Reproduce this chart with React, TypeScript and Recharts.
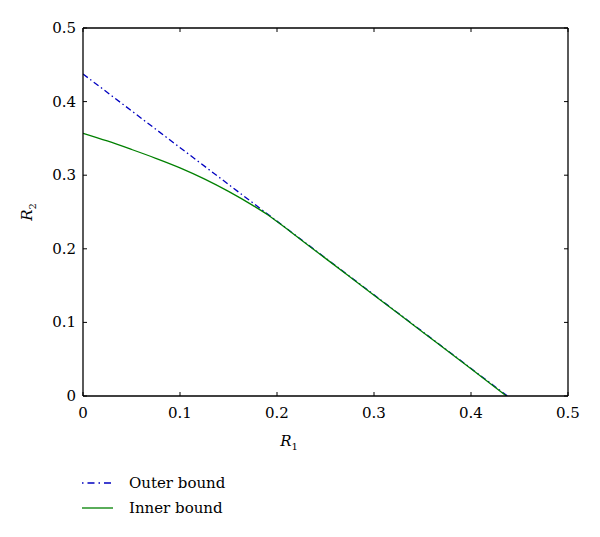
import React from "react";
import { LineChart, Line, XAxis, YAxis, Label } from "recharts";

const xTicks = [0, 0.1, 0.2, 0.3, 0.4, 0.5];
const yTicks = [0, 0.1, 0.2, 0.3, 0.4, 0.5];
const xTickLabels = ["0", "0.1", "0.2", "0.3", "0.4", "0.5"];
const yTickLabels = ["0", "0.1", "0.2", "0.3", "0.4", "0.5"];

const seriesNames = ["Outer bound", "Inner bound"];

const r1Outer = [0, 0.4375];
const r2Outer = [0.4375, 0];

const r1Inner = [0, 0.025, 0.05, 0.075, 0.1, 0.125, 0.15, 0.175, 0.19, 0.2, 0.225, 0.25, 0.3, 0.35, 0.4, 0.4365];
const r2Inner = [0.357, 0.3465, 0.335, 0.323, 0.31, 0.295, 0.278, 0.259, 0.2465, 0.237, 0.212, 0.187, 0.137, 0.087, 0.037, 0];

const outerData = r1Outer.map((r1, i) => ({ r1, r2: r2Outer[i] }));
const innerData = r1Inner.map((r1, i) => ({ r1, r2: r2Inner[i] }));

const FONT = "'DejaVu Serif', serif";
const BLUE = "#0000c0";
const GREEN = "#008000";
const DASH = "6 3 1.5 3";

const tickLabel = (labels: string[], ticks: number[], v: number) => {
  const i = ticks.indexOf(v);
  return i >= 0 ? labels[i] : String(v);
};

const BottomTick = (props: any) => {
  const { x, y, payload } = props;
  return (
    <g>
      <line x1={x} x2={x} y1={y} y2={y - 4} stroke="#000" strokeWidth={1} />
      <text x={x} y={y + 22} textAnchor="middle" fontSize={15} fontFamily={FONT} fill="#000">
        {tickLabel(xTickLabels, xTicks, payload.value)}
      </text>
    </g>
  );
};

const TopTick = (props: any) => {
  const { x, y } = props;
  return <line x1={x} x2={x} y1={y} y2={y + 4} stroke="#000" strokeWidth={1} />;
};

const LeftTick = (props: any) => {
  const { x, y, payload } = props;
  return (
    <g>
      <line x1={x} x2={x + 4} y1={y} y2={y} stroke="#000" strokeWidth={1} />
      <text x={x - 7} y={y + 5} textAnchor="end" fontSize={15} fontFamily={FONT} fill="#000">
        {tickLabel(yTickLabels, yTicks, payload.value)}
      </text>
    </g>
  );
};

const RightTick = (props: any) => {
  const { x, y } = props;
  return <line x1={x} x2={x - 4} y1={y} y2={y} stroke="#000" strokeWidth={1} />;
};

const YLabel = (props: any) => {
  const vb = props.viewBox || { x: 23, y: 28, width: 60, height: 368 };
  const cx = vb.x + 9;
  const cy = vb.y + vb.height / 2;
  return (
    <text
      x={cx}
      y={cy}
      transform={`rotate(-90, ${cx}, ${cy})`}
      textAnchor="middle"
      fontFamily={FONT}
      fontSize={15}
      fill="#000"
    >
      <tspan fontStyle="italic">R</tspan>
      <tspan fontSize={10} dy={4}>2</tspan>
    </text>
  );
};

const XLabel = (props: any) => {
  const vb = props.viewBox || { x: 83, y: 396, width: 485, height: 30 };
  const cx = vb.x + 206;
  const cy = vb.y + 50;
  return (
    <text x={cx} y={cy} textAnchor="middle" fontFamily={FONT} fontSize={15} fill="#000">
      <tspan fontStyle="italic">R</tspan>
      <tspan fontSize={10} dy={4}>1</tspan>
    </text>
  );
};

const LegendBox = () => (
  <svg
    width={260}
    height={60}
    style={{ position: "absolute", left: 0, top: 465, display: "block" }}
  >
    <line x1={82} x2={113} y1={18} y2={18} stroke={BLUE} strokeWidth={1.3} strokeDasharray="1.5 4 7 4" />
    <text x={129} y={23} fontFamily={FONT} fontSize={15} fill="#000">{seriesNames[0]}</text>
    <line x1={82} x2={113} y1={43} y2={43} stroke={GREEN} strokeWidth={1.3} />
    <text x={129} y={48} fontFamily={FONT} fontSize={15} fill="#000">{seriesNames[1]}</text>
  </svg>
);

export default function App() {
  return (
    <div style={{ position: "absolute", left: 0, top: 0, width: 600, height: 537, background: "#fff" }}>
      <LineChart
        width={600}
        height={537}
        margin={{ top: 27, right: 31, bottom: 111, left: 23 }}
        style={{ fontFamily: FONT }}
      >
        <XAxis
          dataKey="r1"
          type="number"
          domain={[0, 0.5]}
          ticks={xTicks}
          tick={<BottomTick />}
          tickLine={false}
          tickSize={0}
          tickMargin={0}
          height={30}
          axisLine={{ stroke: "#000", strokeWidth: 1.3 }}
          allowDataOverflow
        >
          <Label content={<XLabel />} />
        </XAxis>
        <XAxis
          xAxisId="top"
          orientation="top"
          dataKey="r1"
          type="number"
          domain={[0, 0.5]}
          ticks={xTicks}
          tick={<TopTick />}
          tickLine={false}
          tickSize={0}
          tickMargin={0}
          height={1}
          axisLine={{ stroke: "#000", strokeWidth: 1.3 }}
          allowDataOverflow
        />
        <YAxis
          type="number"
          domain={[0, 0.5]}
          ticks={yTicks}
          tick={<LeftTick />}
          tickLine={false}
          tickSize={0}
          tickMargin={0}
          width={60}
          axisLine={{ stroke: "#000", strokeWidth: 1.3 }}
          allowDataOverflow
        >
          <Label content={<YLabel />} />
        </YAxis>
        <YAxis
          yAxisId="right"
          orientation="right"
          type="number"
          domain={[0, 0.5]}
          ticks={yTicks}
          tick={<RightTick />}
          tickLine={false}
          tickSize={0}
          tickMargin={0}
          width={1}
          axisLine={{ stroke: "#000", strokeWidth: 1.3 }}
          allowDataOverflow
        />
        <Line
          data={outerData}
          dataKey="r2"
          type="linear"
          stroke={BLUE}
          strokeWidth={1.3}
          strokeDasharray={DASH}
          dot={false}
          activeDot={false}
          isAnimationActive={false}
          name={seriesNames[0]}
        />
        <Line
          data={innerData}
          dataKey="r2"
          type="monotone"
          stroke={GREEN}
          strokeWidth={1.3}
          dot={false}
          activeDot={false}
          isAnimationActive={false}
          name={seriesNames[1]}
        />
      </LineChart>
      <LegendBox />
    </div>
  );
}
